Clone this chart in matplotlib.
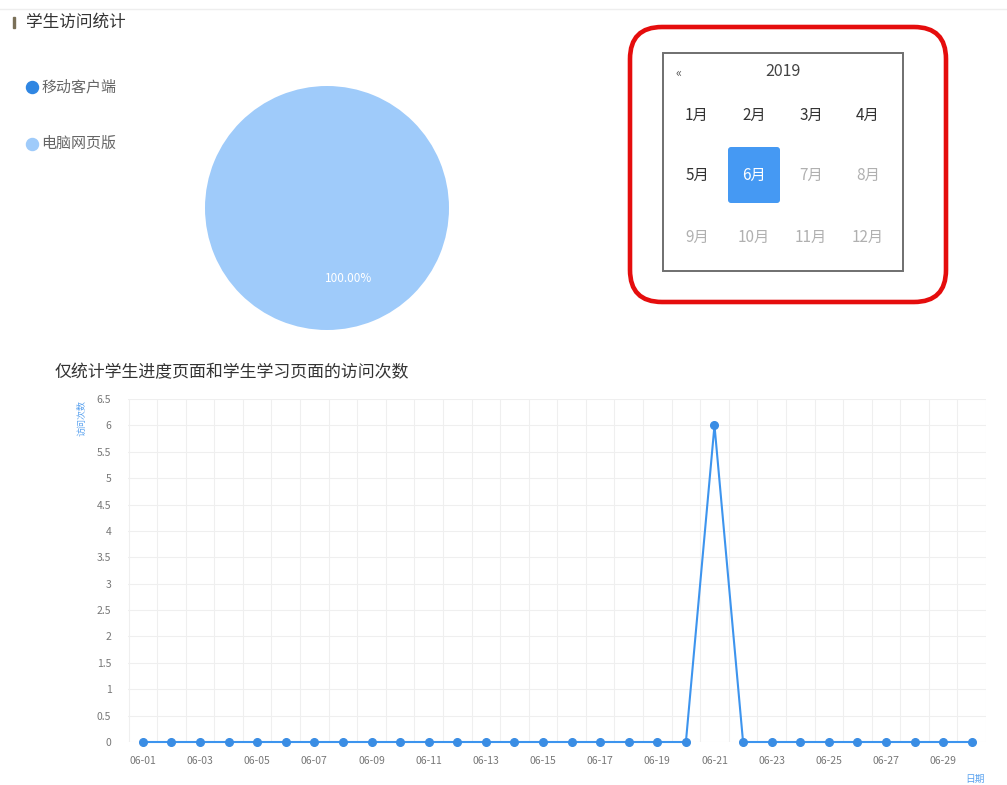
import matplotlib
matplotlib.use("Agg")
import matplotlib.pyplot as plt
from matplotlib.patches import FancyBboxPatch, Rectangle
import numpy as np

plt.rcParams['font.family'] = ['Noto Sans CJK SC', 'DejaVu Sans']

# ---- data ----
client_labels = ["移动客户端", "电脑网页版"]
client_visits = [0, 6]
client_colors = ["#2f86e2", "#9fcbfa"]

days = [f"06-{d:02d}" for d in range(1, 31)]
daily_visits = [0, 0, 0, 0, 0, 0, 0, 0, 0, 0,
                0, 0, 0, 0, 0, 0, 0, 0, 0, 0,
                6, 0, 0, 0, 0, 0, 0, 0, 0, 0]
y_ticks = [0, 0.5, 1, 1.5, 2, 2.5, 3, 3.5, 4, 4.5, 5, 5.5, 6, 6.5]

year_label = "2019"
month_labels = [f"{m}月" for m in range(1, 13)]
selected_month = 6
last_available_month = 6

W, H = 1007, 785
fig = plt.figure(figsize=(W / 100, H / 100), dpi=100)
fig.patch.set_facecolor("white")


def px_axes(left, top, right, bottom, **kw):
    return fig.add_axes([left / W, 1 - bottom / H, (right - left) / W, (bottom - top) / H], **kw)


# ---- page-level overlay (headers, calendar widget) ----
ov = px_axes(0, 0, W, H)
ov.set_xlim(0, W)
ov.set_ylim(H, 0)
ov.axis("off")

ov.plot([0, W], [9, 9], color="#eeeeee", lw=1)
ov.add_patch(Rectangle((13, 17), 2, 11, color="#7a7058"))
ov.text(26, 22, "学生访问统计", fontsize=12, color="#333333", va="center", ha="left")

# pie legend
for i, (lab, col) in enumerate(zip(client_labels, client_colors)):
    y = 87 + i * 57
    ov.scatter([32], [y], s=75, color=col, zorder=3)
    ov.text(41, y, lab, fontsize=10.8, color="#666666", va="center", ha="left")

# calendar widget
ov.add_patch(FancyBboxPatch((630, 27), 316, 275, boxstyle="round,pad=0,rounding_size=32",
                            fill=False, edgecolor="#e50d0d", linewidth=3.3, zorder=2))
ov.add_patch(Rectangle((663, 53), 240, 218, fill=False, edgecolor="#6f6f6f", linewidth=1.4))
ov.text(678, 73, "«", fontsize=9, color="#555555", va="center", ha="center")
ov.text(783, 72, year_label, fontsize=11.5, color="#444444", va="center", ha="center")

col_x = [697, 754, 811, 868]
row_y = [115, 175, 237]
for idx, lab in enumerate(month_labels):
    m = idx + 1
    cx = col_x[idx % 4]
    cy = row_y[idx // 4]
    if m == selected_month:
        ov.add_patch(FancyBboxPatch((728, 147), 52, 56, boxstyle="round,pad=0,rounding_size=3",
                                    facecolor="#4599f3", edgecolor="none", zorder=2))
        color = "white"
    elif m < last_available_month:
        color = "#333333"
    else:
        color = "#b0b0b0"
    ov.text(cx, cy, lab, fontsize=11, color=color, va="center", ha="center", zorder=3)

ov.text(55, 372, "仅统计学生进度页面和学生学习页面的访问次数", fontsize=12.2,
        color="#333333", va="center", ha="left")
ov.text(82, 418, "访问次数", fontsize=6.5, color="#5aa2ef", rotation=90, va="center", ha="center")
ov.text(975, 779, "日期", fontsize=7, color="#5aa2ef", va="center", ha="center")

# ---- pie ----
pax = px_axes(205, 86, 449, 330)


def pct_label(p):
    return f"{p:.2f}%" if p > 0 else ""


wedges, texts, autotexts = pax.pie(client_visits, colors=client_colors, startangle=107,
                                   counterclock=False, autopct=pct_label, pctdistance=0.6,
                                   wedgeprops=dict(linewidth=0))
for t in autotexts:
    t.set_color("white")
    t.set_fontsize(8.5)
pax.set_xlim(-1, 1)
pax.set_ylim(-1, 1)
pax.set_aspect("equal")

# ---- daily line chart ----
ax = px_axes(128, 399, 986, 742)
x = np.arange(len(days))
ax.plot(x, daily_visits, color="#3d94ee", lw=1.5, marker="o", markersize=5.5,
        markerfacecolor="#3a8de4", markeredgecolor="#3a8de4", zorder=3, clip_on=False)
ax.set_xlim(-0.52, len(days) - 0.5)
ax.set_ylim(0, 6.5)
ax.set_yticks(y_ticks)
ax.set_yticklabels([f"{v:g}" for v in y_ticks])
ax.set_xticks(x[::2])
ax.set_xticklabels(days[::2])
ax.set_xticks(np.arange(-0.5, len(days), 1), minor=True)
ax.tick_params(axis="both", which="both", length=0, labelsize=7.5, colors="#777777")
ax.tick_params(axis="y", pad=12)
ax.tick_params(axis="x", pad=10)
ax.grid(True, which="minor", axis="x", color="#efefef", lw=0.8)
ax.grid(True, which="major", axis="y", color="#efefef", lw=0.8)
ax.set_axisbelow(True)
for s in ax.spines.values():
    s.set_visible(False)

fig.savefig("out.png", dpi=100, facecolor="white")
